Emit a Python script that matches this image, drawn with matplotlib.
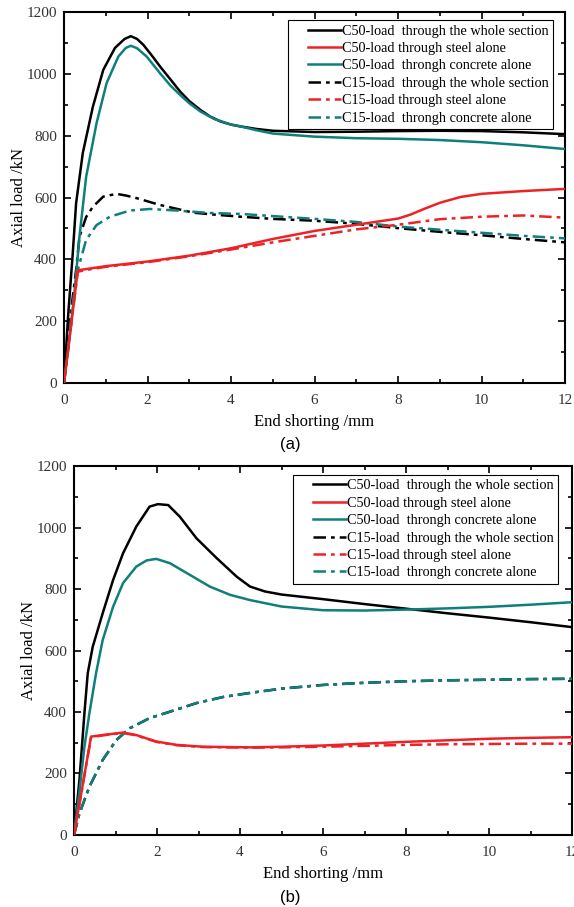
import matplotlib
matplotlib.use('Agg')
import matplotlib.pyplot as plt
from matplotlib.ticker import MultipleLocator
from matplotlib.legend_handler import HandlerLine2D

RED = '#ee2226'
TEAL = '#0f7f7b'
DASHDOT = (0, (5, 2, 1.5, 2))

labels = ['C50-load  through the whole section',
          'C50-load through steel alone',
          'C50-load  throngh concrete alone',
          'C15-load  through the whole section',
          'C15-load through steel alone',
          'C15-load  throngh concrete alone']

# ---- panel (a) ----
a_c50_whole_x = [0, 0.1, 0.21, 0.29, 0.45, 0.69, 0.94, 1.22, 1.45, 1.6, 1.75, 1.9, 2.1, 2.3, 2.55, 2.78, 3.0, 3.27, 3.5, 3.75, 4.0, 4.23, 4.6, 5, 6, 7, 8, 9, 10, 11, 12]
a_c50_whole_y = [0, 220, 420, 582, 744, 893, 1013, 1084, 1113, 1122, 1113, 1094, 1060, 1024, 982, 943, 912, 883, 862, 846, 836, 830, 822, 816, 812, 813, 815, 816, 815, 811, 805]

a_c50_steel_x = [0, 0.33, 0.5, 1, 2, 3, 4, 5, 6, 7, 7.5, 8, 8.3, 8.6, 9, 9.5, 10, 11, 12]
a_c50_steel_y = [0, 365, 368, 378, 393, 412, 436, 466, 492, 512, 522, 532, 545, 562, 583, 602, 612, 621, 628]

a_c50_conc_x = [0, 0.12, 0.25, 0.37, 0.53, 0.78, 1.02, 1.3, 1.48, 1.6, 1.75, 1.98, 2.3, 2.55, 2.78, 3.0, 3.27, 3.6, 4.0, 4.23, 4.6, 5, 6, 7, 8, 9, 10, 11, 12]
a_c50_conc_y = [0, 130, 291, 473, 667, 841, 970, 1056, 1084, 1091, 1083, 1056, 1002, 962, 932, 905, 878, 854, 836, 830, 818, 807, 797, 792, 790, 786, 779, 769, 757]

a_c15_whole_x = [0, 0.12, 0.29, 0.37, 0.53, 0.69, 0.94, 1.26, 1.5, 1.74, 2.3, 3.1, 3.67, 4.23, 5, 6, 7, 8, 9, 10, 11, 12]
a_c15_whole_y = [0, 180, 366, 473, 537, 570, 603, 612, 606, 598, 576, 551, 544, 538, 531, 525, 515, 501, 489, 478, 466, 455]

a_c15_steel_x = [0, 0.33, 0.5, 1, 2, 3, 4, 5, 6, 7, 8, 9, 10, 11, 12]
a_c15_steel_y = [0, 360, 365, 376, 391, 410, 432, 455, 476, 497, 512, 530, 538, 542, 535]

a_c15_conc_x = [0, 0.21, 0.33, 0.53, 0.78, 1.1, 1.58, 2.06, 2.7, 3.5, 4.23, 5, 6, 7, 8, 9, 10, 11, 12]
a_c15_conc_y = [0, 258, 366, 463, 511, 538, 558, 563, 558, 550, 547, 540, 531, 521, 506, 496, 486, 476, 468]

# ---- panel (b) ----
b_c50_whole_x = [0, 0.13, 0.25, 0.33, 0.45, 0.69, 0.94, 1.18, 1.5, 1.82, 2.02, 2.27, 2.55, 2.95, 3.44, 3.92, 4.24, 4.6, 5, 6, 7, 8, 9, 10, 11, 12]
b_c50_whole_y = [0, 179, 396, 526, 612, 721, 829, 916, 1003, 1068, 1076, 1073, 1035, 965, 900, 840, 808, 792, 782, 767, 751, 736, 721, 707, 692, 676]

b_c50_steel_x = [0, 0.41, 0.69, 1.18, 1.5, 1.98, 2.47, 3.1, 4.24, 5, 6, 7, 8, 9, 10, 11, 12]
b_c50_steel_y = [0, 320, 325, 333, 325, 304, 293, 287, 285, 287, 291, 297, 303, 308, 313, 316, 318]

b_c50_conc_x = [0, 0.12, 0.25, 0.37, 0.53, 0.69, 0.94, 1.18, 1.5, 1.75, 1.98, 2.31, 2.79, 3.27, 3.76, 4.24, 5, 6, 7, 8, 9, 10, 11, 12]
b_c50_conc_y = [0, 130, 287, 396, 526, 634, 742, 819, 873, 893, 898, 884, 846, 808, 781, 764, 743, 731, 730, 733, 737, 742, 749, 757]

b_c15_whole_x = [0, 0.13, 0.37, 0.69, 1.02, 1.34, 1.82, 2.31, 2.95, 3.6, 4.24, 5, 6, 7, 8, 9, 10, 11, 12]
b_c15_whole_y = [0, 70, 157, 244, 309, 347, 380, 401, 429, 449, 462, 476, 488, 495, 500, 503, 505, 507, 508]

b_c15_steel_x = [0, 0.41, 0.69, 1.18, 1.5, 1.98, 2.47, 3.1, 4.24, 5, 6, 7, 8, 9, 10, 11, 12]
b_c15_steel_y = [0, 318, 324, 332, 324, 303, 292, 286, 284, 285, 287, 290, 293, 295, 296, 297, 297]

b_c15_conc_x = [0, 0.13, 0.37, 0.69, 1.02, 1.34, 1.82, 2.31, 2.95, 3.6, 4.24, 5, 6, 7, 8, 9, 10, 11, 12]
b_c15_conc_y = [0, 70, 157, 244, 309, 347, 380, 401, 429, 449, 462, 476, 488, 495, 500, 503, 505, 507, 508]

panels = [
    dict(rect=[0.1115, 0.5777, 0.873, 0.409], tag='(a)', tag_y=0.510, leg=(0.976, 0.978),
         series=[(a_c50_whole_x, a_c50_whole_y), (a_c50_steel_x, a_c50_steel_y),
                 (a_c50_conc_x, a_c50_conc_y), (a_c15_whole_x, a_c15_whole_y),
                 (a_c15_steel_x, a_c15_steel_y), (a_c15_conc_x, a_c15_conc_y)]),
    dict(rect=[0.129, 0.0794, 0.8676, 0.4068], tag='(b)', tag_y=0.011, leg=(0.972, 0.976),
         series=[(b_c50_whole_x, b_c50_whole_y), (b_c50_steel_x, b_c50_steel_y),
                 (b_c50_conc_x, b_c50_conc_y), (b_c15_whole_x, b_c15_whole_y),
                 (b_c15_steel_x, b_c15_steel_y), (b_c15_conc_x, b_c15_conc_y)]),
]

colors = ['black', RED, TEAL, 'black', RED, TEAL]
styles = ['-', '-', '-', DASHDOT, DASHDOT, DASHDOT]
order = [3, 5, 4, 0, 2, 1]  # drawing order

fig = plt.figure(figsize=(5.74, 9.07), dpi=100)
serif = 'Liberation Serif'

for p in panels:
    ax = fig.add_axes(p['rect'])
    handles = [None] * 6
    for i in order:
        x, y = p['series'][i]
        ln, = ax.plot(x, y, color=colors[i], linestyle=styles[i], lw=1.8,
                      label=labels[i], zorder=2 + order.index(i))
        handles[i] = ln
    ax.set_xlim(0, 12)
    ax.set_ylim(0, 1200)
    ax.xaxis.set_major_locator(MultipleLocator(2))
    ax.xaxis.set_minor_locator(MultipleLocator(1))
    ax.yaxis.set_major_locator(MultipleLocator(200))
    ax.yaxis.set_minor_locator(MultipleLocator(100))
    ax.tick_params(which='both', direction='in', top=True, right=True, width=1.2)
    ax.tick_params(which='major', length=5, labelsize=11, labelcolor='#333333')
    ax.tick_params(axis='x', which='major', pad=8)
    ax.tick_params(axis='y', which='major', pad=5)
    ax.tick_params(which='minor', length=3)
    for lab in ax.get_xticklabels() + ax.get_yticklabels():
        lab.set_fontfamily(serif)
    for s in ax.spines.values():
        s.set_linewidth(1.5)
    ax.set_xlabel('End shorting /mm', fontfamily=serif, fontsize=12, labelpad=5)
    ax.set_ylabel('Axial load /kN', fontfamily=serif, fontsize=12, labelpad=0)
    leg = ax.legend(handles=handles, loc='upper right', bbox_to_anchor=p['leg'],
                    borderaxespad=0, fancybox=False, edgecolor='black',
                    framealpha=1, handlelength=3.4, handletextpad=0.05,
                    labelspacing=0.31, borderpad=0.3,
                    handler_map={ln: HandlerLine2D(xpad=1.05) for ln in handles},
                    prop={'family': serif, 'size': 10.3})
    leg.get_frame().set_linewidth(0.8)
    fig.text(0.505, p['tag_y'], p['tag'], ha='center', va='center',
             fontfamily='Liberation Sans', fontsize=12)

fig.savefig('out.png', dpi=100)
